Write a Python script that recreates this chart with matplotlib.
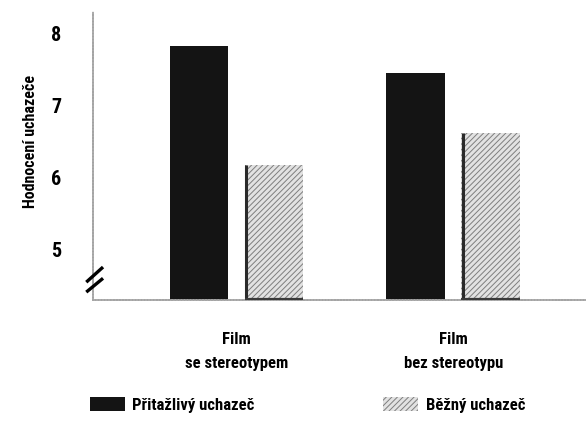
import matplotlib
matplotlib.use("Agg")
import matplotlib.pyplot as plt
from matplotlib import font_manager
import numpy as np

# Ratings of the applicant by film condition
categories = ["Film\nse stereotypem", "Film\nbez stereotypu"]
series_names = ["Přitažlivý uchazeč", "Běžný uchazeč"]
attractive = [7.82, 7.44]
ordinary = [6.17, 6.61]
y_ticks = [5, 6, 7, 8]
y_label = "Hodnocení uchazeče"

# prefer a narrow bold face when one is installed
names = {f.name for f in font_manager.fontManager.ttflist}
narrow = [n for n in ("Roboto Condensed", "Liberation Sans Narrow",
                      "Open Sans Condensed", "DejaVu Sans Condensed")
          if n in names]
FONT = narrow[:1] + ["DejaVu Sans"]
plt.rcParams["font.family"] = FONT
plt.rcParams["font.stretch"] = "condensed"
plt.rcParams["hatch.linewidth"] = 0.7

fig = plt.figure(figsize=(5.86, 4.21), dpi=100)
ax = fig.add_axes([0.159, 0.287, 0.841, 0.684])

x = np.arange(len(categories))
width = 0.27
offset = 0.173
y_min, y_max = 4.29, 8.29

dark = ax.bar(x - offset, [v - y_min for v in attractive], width, bottom=y_min,
              color="#141414", edgecolor="#141414", linewidth=0,
              label=series_names[0], zorder=2)
light = ax.bar(x + offset, [v - y_min for v in ordinary], width, bottom=y_min,
               color="#e2e2e2", edgecolor="#7e7e7e", linewidth=0,
               hatch="//////", label=series_names[1], zorder=2)

# dark shaded left and bottom edges of the light bars
for xi, v in zip(x + offset, ordinary):
    left = xi - width / 2
    ax.plot([left + 0.006, left + 0.006], [y_min, v], color="#2a2a2a",
            lw=2.2, solid_capstyle="butt", zorder=3)
    ax.plot([left, left + width], [y_min + 0.012, y_min + 0.012],
            color="#3a3a3a", lw=1.6, solid_capstyle="butt", zorder=3)

ax.set_xlim(-0.66, 1.612)
ax.set_ylim(y_min, y_max)
ax.set_yticks(y_ticks)
ax.set_yticklabels([str(t) for t in y_ticks], fontsize=14.5,
                   fontweight="bold")
ax.set_xticks(x)
ax.set_xticklabels(categories, fontsize=12, fontweight="bold",
                   linespacing=1.75)
ax.tick_params(axis="both", length=0)
ax.tick_params(axis="y", pad=23)
ax.tick_params(axis="x", pad=23)

ax.set_ylabel(y_label, fontsize=11.5, fontweight="bold")
ax.yaxis.set_label_coords(-0.112, 0.55)

for side in ("top", "right"):
    ax.spines[side].set_visible(False)
for side in ("left", "bottom"):
    ax.spines[side].set_color("#a4a4a4")
    ax.spines[side].set_linewidth(1.3)
    ax.spines[side].set_linestyle((0, (1, 0.7)))

# axis break marks
for y0, y1 in [(0.0625, 0.115), (0.028, 0.076)]:
    ax.plot([-0.014, 0.02], [y0, y1], transform=ax.transAxes, color="black",
            lw=2.4, solid_capstyle="butt", clip_on=False, zorder=5)

# one legend entry per series, placed at its own spot
for handle, name, left_px in [(dark, series_names[0], 90),
                              (light, series_names[1], 383)]:
    fig.legend(handles=[handle], labels=[name], loc="center left",
               bbox_to_anchor=(left_px / 586, 1 - 405 / 421), frameon=False,
               borderaxespad=0, borderpad=0, handlelength=2.1,
               handleheight=0.85, handletextpad=0.45,
               prop={"family": FONT, "weight": "bold", "size": 12,
                     "stretch": "condensed"})

fig.savefig("out.png", dpi=100, facecolor="white")
